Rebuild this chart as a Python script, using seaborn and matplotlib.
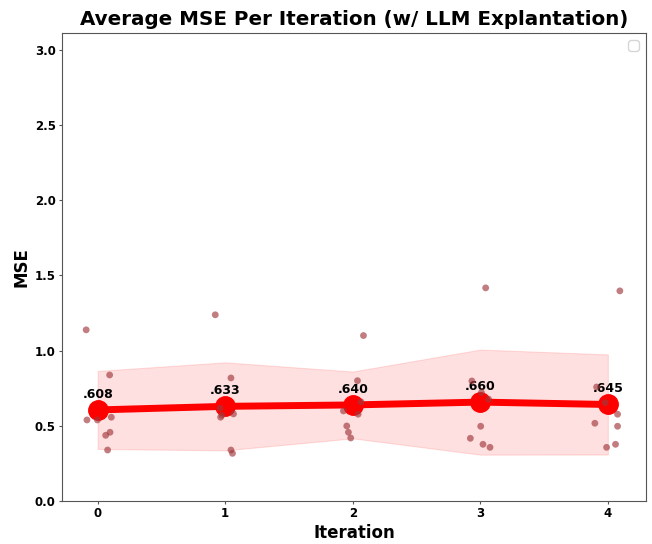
import numpy as np
import pandas as pd
import matplotlib
matplotlib.use("Agg")
import matplotlib.pyplot as plt
import seaborn as sns

iterations = [0, 1, 2, 3, 4]
mse_iter0 = [1.138, 0.838, 0.539, 0.539, 0.557, 0.437, 0.457, 0.339]
mse_iter1 = [1.238, 0.818, 0.617, 0.579, 0.570, 0.557, 0.339, 0.317]
mse_iter2 = [1.100, 0.800, 0.599, 0.659, 0.577, 0.499, 0.457, 0.419]
mse_iter3 = [1.417, 0.798, 0.721, 0.677, 0.497, 0.417, 0.377, 0.357]
mse_iter4 = [1.397, 0.758, 0.654, 0.577, 0.517, 0.497, 0.377, 0.357]
jitter0 = [-0.09, 0.094, -0.084, -0.002, 0.107, 0.063, 0.097, 0.078]
jitter1 = [-0.078, 0.045, -0.041, 0.065, -0.026, -0.036, 0.045, 0.057]
jitter2 = [0.084, 0.037, -0.073, 0.065, 0.042, -0.047, -0.034, -0.016]
jitter3 = [0.042, -0.066, 0.009, 0.065, 0.003, -0.078, 0.021, 0.076]
jitter4 = [0.094, -0.088, -0.02, 0.076, -0.102, 0.076, 0.06, -0.01]
mean_labels = [".608", ".633", ".640", ".660", ".645"]

all_mse = [mse_iter0, mse_iter1, mse_iter2, mse_iter3, mse_iter4]
all_jit = [jitter0, jitter1, jitter2, jitter3, jitter4]
rows = []
for it, vals, jit in zip(iterations, all_mse, all_jit):
    for v, j in zip(vals, jit):
        rows.append({"Iteration": it, "MSE": v, "xj": it + j})
df = pd.DataFrame(rows)

fig = plt.figure(figsize=(6.52, 5.44), dpi=100)
ax = fig.add_axes([0.095, 0.079, 0.896, 0.860])

sns.lineplot(data=df, x="Iteration", y="MSE", errorbar="sd", color="red",
             linewidth=5, marker="o", markersize=14, markeredgecolor="red",
             markeredgewidth=1, ax=ax, err_kws={"alpha": 0.12, "edgecolor": "red", "linewidth": 0.8})
sns.scatterplot(data=df, x="xj", y="MSE", color="#a0383c", alpha=0.65, s=24,
                edgecolor="none", ax=ax, zorder=5)

means = df.groupby("Iteration")["MSE"].mean()
for it, lab in zip(iterations, mean_labels):
    ax.annotate(lab, (it, means[it]), xytext=(0, 6.5), textcoords="offset points",
                ha="center", va="bottom", fontsize=9, fontweight="bold")

ax.set_xlim(-0.28, 4.30)
ax.set_ylim(0, 3.11)
ax.set_xticks(iterations)
ax.set_yticks(np.arange(0, 3.01, 0.5))
ax.set_title("Average MSE Per Iteration (w/ LLM Explantation)", fontsize=14.3, fontweight="bold")
ax.set_xlabel("Iteration", fontsize=12, fontweight="bold", labelpad=3)
ax.set_ylabel("MSE", fontsize=12, fontweight="bold", labelpad=3)
ax.tick_params(length=2.5, pad=2, color="#555555")
for sp in ax.spines.values():
    sp.set_color("#555555")
for lab in ax.get_xticklabels() + ax.get_yticklabels():
    lab.set_fontweight("bold")
    lab.set_fontsize(8.5)
ax.legend(handles=[], loc="upper right")

fig.savefig("out.png", dpi=100)
